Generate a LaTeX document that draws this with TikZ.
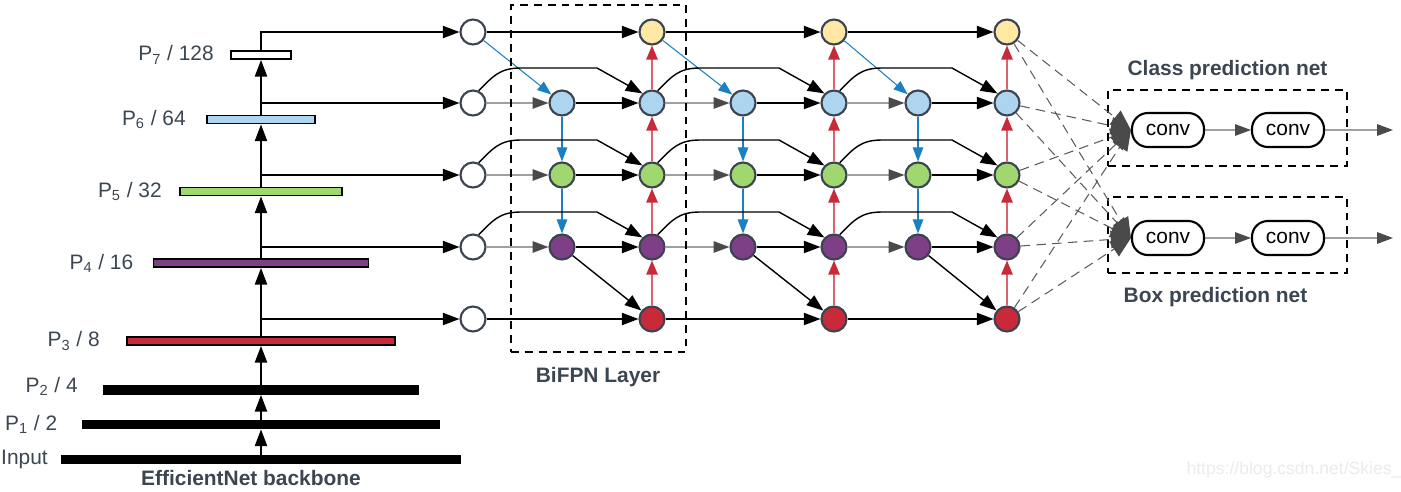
\documentclass[tikz,border=0pt]{standalone}
\usepackage{fontspec}
\setmainfont{Liberation Sans}
\usepackage{xcolor}
\usetikzlibrary{arrows.meta,positioning,calc}
\definecolor{txt}{HTML}{3B4652}
\definecolor{rim}{HTML}{3A4350}
\definecolor{cyel}{HTML}{FFE8A3}
\definecolor{cblu}{HTML}{AED5F0}
\definecolor{cgrn}{HTML}{A0D76F}
\definecolor{cpur}{HTML}{7F3F86}
\definecolor{cred}{HTML}{C92A3A}
\definecolor{arblu}{HTML}{1B80C2}
\definecolor{arred}{HTML}{D96470}
\definecolor{argry}{HTML}{4A4A4A}

\begin{document}
\begin{tikzpicture}[x=0.02cm,y=-0.02cm,font=\fontsize{11.9}{14}\selectfont,
	lbl/.style={text=txt,inner sep=0pt},
	ttl/.style={text=txt,font=\fontsize{11.9}{14}\selectfont\bfseries},
	bar/.style={draw=black,line width=1.1pt,minimum height=0.16cm,inner sep=0pt},
	fm/.style={circle,draw=rim,line width=1.2pt,minimum size=0.5cm,inner sep=0pt},
	cv/.style={draw=black,line width=1.2pt,rounded corners=9pt,minimum width=1.44cm,minimum height=0.68cm,inner sep=0pt},
	box/.style={draw=black,line width=1.2pt,dash pattern=on 4.5pt off 3.4pt,inner sep=0pt},
	bk/.style={draw=black,line width=0.8pt,-{Triangle[length=9.5pt,width=7pt]}},
	lat/.style={draw=gray!75,line width=0.8pt,-{Triangle[length=9pt,width=6.5pt,color=argry]}},
	td/.style={draw=arblu,line width=0.6pt,-{Triangle[length=8pt,width=6pt]}},
	bu/.style={draw=arred,line width=0.8pt,-{Triangle[length=8pt,width=6.5pt,color=cred]}},
	dsh/.style={draw=argry!90,line width=0.6pt,dash pattern=on 5.5pt off 3.5pt,-{Triangle[length=11.5pt,width=10pt,color=argry]}}]
	\useasboundingbox (0,0) rectangle (1401,491);

	\foreach \n/\w/\y/\c in {inp/7.96/459.5/black,p1/7.14/424.5/black,p2/6.28/390/black,p3/5.36/341/cred,p4/4.3/263/cpur,p5/3.24/191.5/cgrn,p6/2.16/119.5/cblu,p7/1.2/55/white}
		\node[bar,fill=\c,minimum width=\w cm] (\n) at (261,\y) {};
	\node[lbl,left=16 of p7] {P\textsubscript{7} / 128};
	\node[lbl,left=20 of p6] {P\textsubscript{6} / 64};
	\node[lbl,left=17 of p5] {P\textsubscript{5} / 32};
	\node[lbl,left=19 of p4] {P\textsubscript{4} / 16};
	\node[lbl,left=26 of p3] {P\textsubscript{3} / 8};
	\node[lbl,left=25 of p2,yshift=2pt] {P\textsubscript{2} / 4};
	\node[lbl,left=24 of p1] {P\textsubscript{1} / 2};
	\node[lbl,left=13 of inp] {Input};
	\node[ttl] at (251,478) {EfficientNet backbone};

	\foreach \r/\y/\c in {7/32/cyel,6/103/cblu,5/175/cgrn,4/247/cpur,3/319/cred}{
		\node[fm,fill=white] (i\r) at (473,\y) {};
		\foreach \col/\x in {b/652,d/834,f/1007}
			\node[fm,fill=\c] (\col\r) at (\x,\y) {};
	}
	\foreach \r/\y/\c in {6/103/cblu,5/175/cgrn,4/247/cpur}
		\foreach \col/\x in {a/562,c/743,e/918}
			\node[fm,fill=\c] (\col\r) at (\x,\y) {};

	\foreach \a/\b in {inp/p1,p1/p2,p2/p3,p3/p4,p4/p5,p5/p6,p6/p7}
		\draw[bk] (\a) -- (\b);
	\draw[bk] (p7.north) |- (i7);
	\foreach \r in {6,5,4,3}
		\draw[bk] (p\r.north |- i\r) -- (i\r);

	\foreach \X/\Y/\Z in {i/a/b,b/c/d,d/e/f}{
		\draw[td] (\X7) -- (\Y6);
		\draw[td] (\Y6) -- (\Y5);
		\draw[td] (\Y5) -- (\Y4);
		\foreach \r in {6,5,4}{
			\draw[lat] (\X\r) -- (\Y\r);
			\draw[bk] (\Y\r) -- (\Z\r);
			\draw[bk] (\X\r.65) .. controls +(14,-14) and +(-22,0) .. ($(\X\r)+(48,-35)$) -- ($(\Z\r)+(-55,-35)$) -- (\Z\r.135);
		}
		\draw[bk] (\Y4) -- (\Z3);
		\draw[bk] (\X3) -- (\Z3);
		\draw[bk] (\X7) -- (\Z7);
		\foreach \r/\s in {3/4,4/5,5/6,6/7}
			\draw[bu] (\Z\r) -- (\Z\s);
	}
	\node[box,minimum width=3.5cm,minimum height=6.94cm] (bifpn) at (598.5,178.5) {};
	\node[ttl] at (598,377) {BiFPN Layer};

	\node[box,minimum width=4.78cm,minimum height=1.52cm] (cls) at (1227.5,128) {};
	\node[box,minimum width=4.78cm,minimum height=1.52cm] (bxn) at (1227.5,235) {};
	\node[ttl] at (1227.5,70) {Class prediction net};
	\node[ttl] at (1215.5,297) {Box prediction net};
	\node[cv] (cc1) at (1168,130) {conv};
	\node[cv] (cc2) at (1288,130) {conv};
	\node[cv] (bc1) at (1168,238) {conv};
	\node[cv] (bc2) at (1288,238) {conv};
	\coordinate (co1) at (1393,130);
	\coordinate (co2) at (1393,238);
	\draw[lat] (cc1) -- (cc2);
	\draw[lat] (cc2) -- (co1);
	\draw[lat] (bc1) -- (bc2);
	\draw[lat] (bc2) -- (co2);
	\foreach \r in {7,6,5,4,3}{
		\draw[dsh] (f\r) -- (cc1.west);
		\draw[dsh] (f\r) -- (bc1.west);
	}

	\node[text=black!8,font=\fontsize{10}{12}\selectfont] at (1294,470) {https://blog.csdn.net/Skies\_};
\end{tikzpicture}
\end{document}
